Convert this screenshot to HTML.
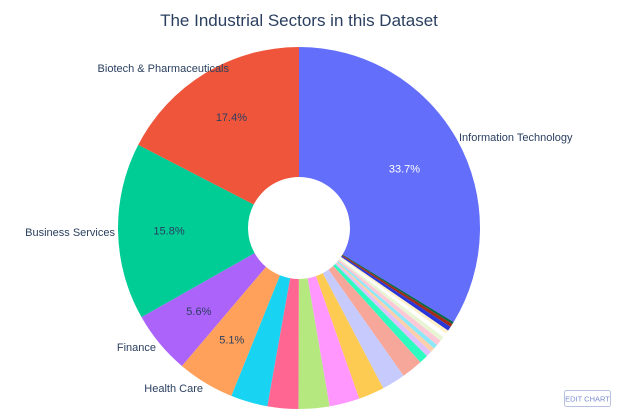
<!DOCTYPE html>
<html><head><meta charset="utf-8"><style>
body{margin:0;background:#fff;width:624px;height:417px;overflow:hidden;font-family:"Liberation Sans",sans-serif}
svg{display:block}
</style></head><body>
<svg id="chart" width="624" height="417">
<text x="299" y="26" text-anchor="middle" font-size="17" fill="#2a3f5f">The Industrial Sectors in this Dataset</text>
<g id="slices"></g>
<g id="labels"></g>
<g>
<rect x="564.5" y="390.5" width="46" height="16" rx="2" fill="#fff" stroke="#b8c2e0"/>
<text x="587.5" y="401.5" text-anchor="middle" font-size="7.5" fill="#7a8fd0">EDIT CHART</text>
</g>
</svg>
<script>
const categories=["Information Technology","Other A","Other B","Other C","Other D","Other E","Other F","Other G","Other H","Other I","Other J","Other K","Other L","Other M","Other N","Other O","Other P","Other Q","Health Care","Finance","Business Services","Biotech & Pharmaceuticals"];
const values=[33.7,0.2,0.3,0.4,0.3,0.4,0.4,0.5,0.4,0.4,0.5,0.8,1.9,2.1,2.3,2.7,2.75,2.75,3.3,5.1,5.6,15.8,17.4];
const labelsShown={"Information Technology":1,"Health Care":1,"Finance":1,"Business Services":1,"Biotech & Pharmaceuticals":1};
const colors=["#636efa","#00664b","#a02a17","#2a35d8","#fef0c8","#ffffff","#e8f5d5","#ffc8d6","#8ce8f8","#fdd0ab","#ddc1fd","#2dfcc0","#f7a799","#c6cafd","#FECB52","#FF97FF","#B6E880","#FF6692","#19d3f3","#FFA15A","#ab63fa","#00cc96","#EF553B"];
</script>
<script>
// fix category list to align with values
const cats=["Information Technology","Other A","Other B","Other C","Other D","Other E","Other F","Other G","Other H","Other I","Other J","Other K","Other L","Other M","Other N","Other O","Other P","Other Q","Other R","Health Care","Finance","Business Services","Biotech & Pharmaceuticals"];
const cx=299,cy=228,R=181,r=51;
const total=values.reduce((a,b)=>a+b,0);
function pt(ang,rad){const a=ang*Math.PI/180;return [cx+rad*Math.sin(a),cy-rad*Math.cos(a)];}
const gS=document.getElementById('slices'),gL=document.getElementById('labels');
const NS="http://www.w3.org/2000/svg";
let start=0;
const outPos={"Information Technology":[459,141,"start"],"Biotech & Pharmaceuticals":[229,72,"end"],"Business Services":[115,236,"end"],"Finance":[156,351,"end"],"Health Care":[203,392,"end"]};
values.forEach((v,i)=>{
  const sweep=v/total*360,end=start+sweep;
  const [x1,y1]=pt(start,R),[x2,y2]=pt(end,R),[x3,y3]=pt(end,r),[x4,y4]=pt(start,r);
  const lg=sweep>180?1:0;
  const p=document.createElementNS(NS,'path');
  p.setAttribute('d',`M${x1},${y1}A${R},${R} 0 ${lg} 1 ${x2},${y2}L${x3},${y3}A${r},${r} 0 ${lg} 0 ${x4},${y4}Z`);
  p.setAttribute('fill',colors[i]);
  
  
  gS.appendChild(p);
  if(labelsShown[cats[i]]){
    const mid=(start+end)/2;
    const rr=cats[i]==="Information Technology"?(r+R)/2+5:(r+R)/2+14;
    const [tx,ty]=pt(mid,rr);
    const t=document.createElementNS(NS,'text');
    t.setAttribute('x',tx);t.setAttribute('y',ty+4);
    t.setAttribute('text-anchor','middle');t.setAttribute('font-size','11');
    t.setAttribute('fill',i===0?'#fff':'#2a3f5f');
    t.textContent=(v).toFixed(1)+'%';
    
    
    gL.appendChild(t);
    const o=outPos[cats[i]];
    const t2=document.createElementNS(NS,'text');
    t2.setAttribute('x',o[0]);t2.setAttribute('y',o[1]);
    t2.setAttribute('text-anchor',o[2]);t2.setAttribute('font-size','11');
    t2.setAttribute('fill','#2a3f5f');
    t2.textContent=cats[i];
    
    
    gL.appendChild(t2);
  }
  start=end;
});
</script>
</body></html>
